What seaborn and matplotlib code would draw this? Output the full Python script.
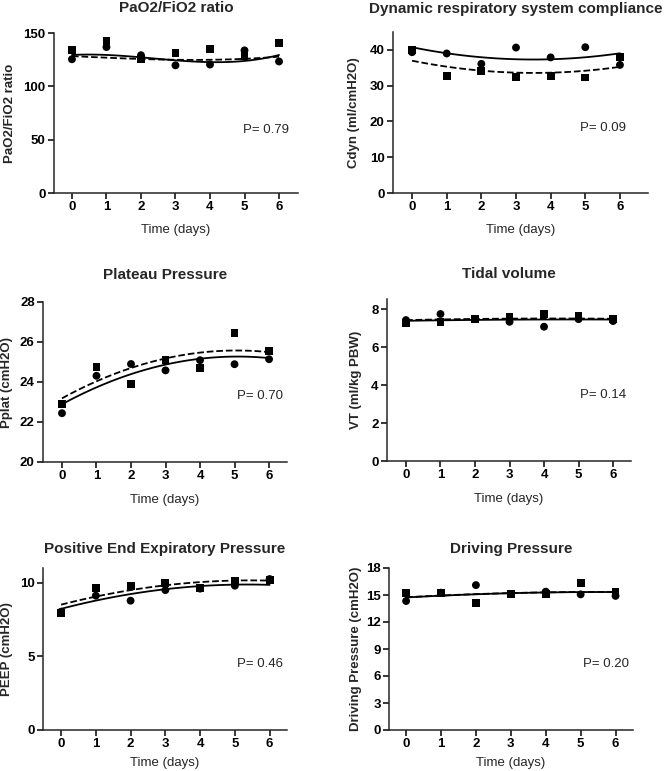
import numpy as np
import pandas as pd
import matplotlib
matplotlib.use("Agg")
import matplotlib.pyplot as plt
import seaborn as sns

# ---------------- data ----------------
days = [0, 1, 2, 3, 4, 5, 6]
day_ticks = [0, 1, 2, 3, 4, 5, 6]

# PaO2/FiO2 ratio
pf_circle = [125.4, 136.8, 129.2, 119.7, 120.4, 133.7, 123.3]
pf_square = [133.8, 142.8, 125.3, 131.2, 135.0, 128.8, 140.5]
pf_fit_circle = [129.4, 129.4, 127.2, 124.4, 122.7, 123.8, 129.4]
pf_fit_square = [128.3, 127.0, 125.6, 124.8, 124.9, 125.9, 127.8]

# Dynamic compliance
cdyn_circle = [39.35, 39.0, 36.1, 40.65, 37.9, 40.75, 35.8]
cdyn_square = [40.0, 32.8, 34.2, 32.4, 32.6, 32.3, 38.1]
cdyn_fit_circle = [40.7, 39.1, 38.0, 37.4, 37.3, 37.9, 39.1]
cdyn_fit_square = [36.9, 35.4, 34.3, 33.6, 33.5, 34.2, 35.3]

# Plateau pressure
pplat_circle = [22.44, 24.31, 24.9, 24.58, 25.09, 24.89, 25.14]
pplat_square = [22.9, 24.76, 23.9, 25.09, 24.69, 26.46, 25.55]
pplat_fit_circle = [22.9, 23.68, 24.44, 24.9, 25.12, 25.26, 25.21]
pplat_fit_square = [23.15, 24.07, 24.73, 25.17, 25.44, 25.55, 25.52]

# Tidal volume
vt_circle = [7.42, 7.74, 7.47, 7.33, 7.07, 7.47, 7.37]
vt_square = [7.25, 7.33, 7.47, 7.56, 7.74, 7.65, 7.46]
vt_fit_circle = [7.38, 7.41, 7.43, 7.44, 7.45, 7.45, 7.45]
vt_fit_square = [7.42, 7.45, 7.48, 7.50, 7.50, 7.50, 7.49]

# PEEP
peep_circle = [8.03, 9.12, 8.78, 9.5, 9.6, 9.8, 10.25]
peep_square = [7.96, 9.62, 9.77, 10.0, 9.62, 10.1, 10.18]
peep_fit_circle = [8.19, 8.82, 9.28, 9.55, 9.73, 9.84, 9.89]
peep_fit_square = [8.48, 9.10, 9.50, 9.84, 10.0, 10.14, 10.16]

# Driving pressure
dp_circle = [14.33, 15.26, 16.1, 15.1, 15.37, 15.07, 14.9]
dp_square = [15.19, 15.19, 14.15, 15.07, 15.07, 16.37, 15.37]
dp_fit_circle = [14.72, 14.93, 15.08, 15.2, 15.28, 15.32, 15.33]
dp_fit_square = [14.74, 14.95, 15.1, 15.21, 15.29, 15.33, 15.34]

titles = ["PaO2/FiO2 ratio", "Dynamic respiratory system compliance",
          "Plateau Pressure", "Tidal volume",
          "Positive End Expiratory Pressure", "Driving Pressure"]
ylabels = ["PaO2/FiO2 ratio", "Cdyn (ml/cmH2O)", "Pplat (cmH2O)",
           "VT (ml/kg PBW)", "PEEP (cmH2O)", "Driving Pressure (cmH2O)"]
pvalues = ["P= 0.79", "P= 0.09", "P= 0.70", "P= 0.14", "P= 0.46", "P= 0.20"]
yticks = [[0, 50, 100, 150], [0, 10, 20, 30, 40], [20, 22, 24, 26, 28],
          [0, 2, 4, 6, 8], [0, 5, 10], [0, 3, 6, 9, 12, 15, 18]]

circles = [pf_circle, cdyn_circle, pplat_circle, vt_circle, peep_circle, dp_circle]
squares = [pf_square, cdyn_square, pplat_square, vt_square, peep_square, dp_square]
fit_c = [pf_fit_circle, cdyn_fit_circle, pplat_fit_circle, vt_fit_circle, peep_fit_circle, dp_fit_circle]
fit_s = [pf_fit_square, cdyn_fit_square, pplat_fit_square, vt_fit_square, peep_fit_square, dp_fit_square]
orders = [3, 2, 2, 2, 2, 2]

# ---------------- layout / style ----------------
sns.set_style("ticks")
plt.rcParams["font.family"] = ["Liberation Sans", "DejaVu Sans"]
plt.rcParams["axes.linewidth"] = 1.1

W, H = 666, 771
fig = plt.figure(figsize=(W / 100, H / 100), dpi=100)

# pixel boxes (left, top, right, bottom), y-limits, x-limits
boxes = [(54, 33, 298, 193), (393, 32, 648, 193),
         (43, 302, 287, 462), (387, 299, 631, 461),
         (43, 568, 287, 730), (389, 568, 633, 730)]
ylims = [(0, 150), (0, 45), (20, 28), (0, 8.53), (0, 11.0), (0, 18)]
xlims = [(-0.52, 6.55), (-0.55, 6.81), (-0.55, 6.52), (-0.55, 6.52),
         (-0.52, 6.5), (-0.49, 6.5)]
title_pos = [(176, 8), (516, 9), (165, 275), (509, 274), (165, 549), (511, 549)]
ylabel_x = [10, 354, 7, 356, 7, 356]
xlabel_off = [37, 37, 38, 38, 33, 33]
p_pos = [(5.62, 59), (5.51, 18.2), (5.74, 23.3), (5.71, 3.47), (5.71, 4.49), (5.74, 7.33)]

for i in range(6):
    l, t, r, b = boxes[i]
    ax = fig.add_axes([l / W, 1 - b / H, (r - l) / W, (b - t) / H])
    df = pd.DataFrame({
        "day": days * 2,
        "value": circles[i] + squares[i],
        "group": ["circle"] * 7 + ["square"] * 7,
    })
    sns.regplot(x=days, y=fit_c[i], order=orders[i], scatter=False, ci=None,
                color="black", line_kws={"lw": 1.3, "ls": "-"}, ax=ax)
    sns.regplot(x=days, y=fit_s[i], order=orders[i], scatter=False, ci=None,
                color="black", line_kws={"lw": 1.3, "ls": "--"}, ax=ax)
    sns.scatterplot(data=df, x="day", y="value", style="group",
                    markers={"circle": "o", "square": "s"}, color="black",
                    s=32, linewidth=0, legend=False, ax=ax, zorder=3)
    ax.set_xlim(*xlims[i])
    ax.set_ylim(*ylims[i])
    ax.set_xticks(day_ticks)
    ax.set_yticks(yticks[i])
    sns.despine(ax=ax)
    ax.tick_params(direction="out", length=4, width=1.1, labelsize=9.5, pad=2,
                   color="black", labelcolor="black")
    for lab in ax.get_xticklabels() + ax.get_yticklabels():
        lab.set_fontweight("bold")
    ax.set_xlabel("Time (days)", fontsize=9.5)
    ax.xaxis.label.set_va("center")
    ax.xaxis.set_label_coords(0.5, -xlabel_off[i] / (b - t))
    ax.set_ylabel(ylabels[i], fontsize=9.5, fontweight="bold")
    ax.yaxis.label.set_va("center")
    ax.yaxis.set_label_coords((ylabel_x[i] - l) / (r - l), 0.5)
    ax.text(p_pos[i][0], p_pos[i][1], pvalues[i], ha="center", va="center",
            fontsize=9.5)
    tx, ty = title_pos[i]
    fig.text(tx / W, 1 - ty / H, titles[i], ha="center", va="center",
             fontsize=11, fontweight="bold")

fig.savefig("out.png", dpi=100)
